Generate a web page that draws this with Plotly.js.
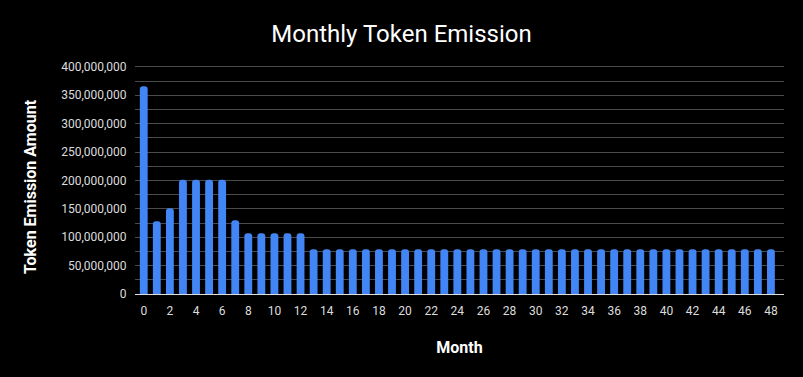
<!DOCTYPE html>
<html>
<head>
<meta charset="utf-8">
<script src="https://cdn.plot.ly/plotly-3.0.1.min.js"></script>
<style>html,body{margin:0;padding:0;background:#000;}#chart{width:803px;height:377px;}</style>
</head>
<body>
<div id="chart"></div>
<script>
const months = Array.from({length: 49}, (_, i) => i);
const emission = [
  366000000, 128000000, 151000000, 201000000, 201000000, 201000000, 201000000,
  130000000, 107000000, 107000000, 107000000, 107000000, 107000000,
  79000000, 79000000, 79000000, 79000000, 79000000, 79000000, 79000000, 79000000,
  79000000, 79000000, 79000000, 79000000, 79000000, 79000000, 79000000, 79000000,
  79000000, 79000000, 79000000, 79000000, 79000000, 79000000, 79000000, 79000000,
  79000000, 79000000, 79000000, 79000000, 79000000, 79000000, 79000000, 79000000,
  79000000, 79000000, 79000000, 79000000
];
const yTickVals = [0, 50000000, 100000000, 150000000, 200000000, 250000000, 300000000, 350000000, 400000000];
const yTickText = ["0", "50,000,000", "100,000,000", "150,000,000", "200,000,000", "250,000,000", "300,000,000", "350,000,000", "400,000,000"];

const trace = {
  type: 'bar',
  x: months,
  y: emission,
  width: 0.6,
  marker: {color: '#4285f4', cornerradius: 3},
  hoverinfo: 'x+y'
};
const layout = {
  width: 803, height: 377,
  paper_bgcolor: '#000', plot_bgcolor: '#000',
  margin: {l: 135, r: 19, t: 64, b: 83},
  font: {family: 'Roboto, sans-serif', color: '#ddd', size: 12},
  title: {text: 'Monthly Token Emission', x: 0.5, xanchor: 'center', y: 0.912, yanchor: 'middle',
          font: {family: 'Roboto, sans-serif', size: 24, color: '#fff'}},
  xaxis: {
    range: [-0.67, 49.0],
    tickmode: 'linear', tick0: 0, dtick: 2,
    showgrid: false, zeroline: false,
    showline: true, linecolor: '#ddd', linewidth: 1,
    ticks: 'outside', ticklen: 6, tickcolor: 'rgba(0,0,0,0)',
    tickfont: {size: 12, color: '#ddd'},
    title: {text: '<b>Month</b>', font: {size: 16, color: '#fff'}, standoff: 24}
  },
  yaxis: {
    range: [0, 405000000],
    tickmode: 'array', tickvals: yTickVals, ticktext: yTickText,
    showgrid: true, gridcolor: '#4a4a4a', gridwidth: 1,
    minor: {dtick: 25000000, tick0: 0, showgrid: true, gridcolor: '#4a4a4a', gridwidth: 1, ticks: ''},
    zeroline: false, showline: false,
    ticks: 'outside', ticklen: 5, tickcolor: 'rgba(0,0,0,0)',
    tickfont: {size: 12, color: '#ddd'},
    title: {text: ''}
  },
  annotations: [{
    text: '<b>Token Emission Amount</b>', textangle: -90,
    xref: 'paper', yref: 'paper', x: 0, y: 0.5,
    xanchor: 'center', yanchor: 'middle', showarrow: false,
    font: {size: 16, color: '#fff', family: 'Roboto, sans-serif'}
  }],
  bargap: 0.4,
  showlegend: false
};
// position y-title annotation at pixel x≈30, y≈187
const plotW = 803 - 135 - 19, plotH = 377 - 64 - 83;
layout.annotations[0].x = (30 - 135) / plotW;
layout.annotations[0].y = (377 - 83 - 187) / plotH;
Plotly.newPlot('chart', [trace], layout, {displayModeBar: false, staticPlot: true});
</script>
</body>
</html>
